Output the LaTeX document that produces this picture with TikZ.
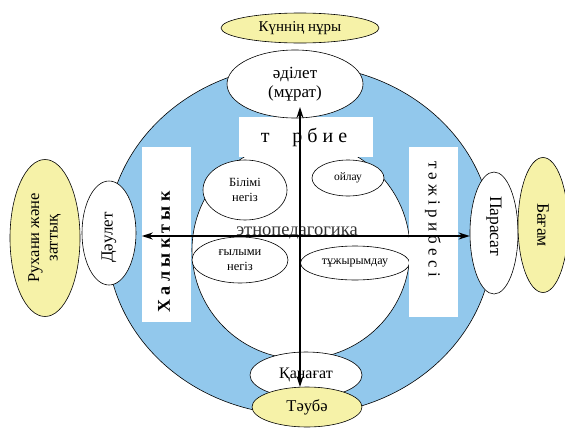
\documentclass[tikz,border=0pt]{standalone}
\usepackage{fontspec}
\setmainfont{Liberation Serif}
\usetikzlibrary{shapes.geometric,arrows.meta}
\definecolor{ringblue}{RGB}{146,200,236}
\definecolor{sunyellow}{RGB}{246,242,168}
\newcommand{\fs}[1]{\fontsize{#1}{#1}\selectfont}
\tikzset{
  oval/.style={ellipse, draw, line width=0.6pt, fill=white, inner sep=0pt, align=center},
  sunoval/.style={oval, fill=sunyellow},
  labelbox/.style={rectangle, fill=white, inner sep=0pt},
  axis/.style={line width=1.6pt, {Stealth[length=11pt,width=7pt]}-{Stealth[length=11pt,width=7pt]}}
}
\begin{document}
\begin{tikzpicture}[x=1pt,y=-1pt]
\useasboundingbox (0,0) rectangle (565,434);

% outer ring and inner circle
\node[ellipse, draw, line width=0.6pt, fill=ringblue, minimum width=386pt, minimum height=350pt] (ring) at (300,240) {};
\node[circle, draw, line width=0.6pt, fill=white, minimum size=218pt] (core) at (301,250) {};

% inner ovals
\node[oval, minimum width=84pt, minimum height=60pt, font=\fs{12.5}] (bilim) at (245,190) {Білімі\\[2pt]негіз};
\node[oval, minimum width=72pt, minimum height=36pt, font=\fs{11.5}] (oilau) at (348,178) {ойлау};
\node[oval, minimum width=96pt, minimum height=46pt, font=\fs{12.5}] (gylym) at (240,260) {ғылыми\\[2pt]негіз};
\node[oval, minimum width=109pt, minimum height=34pt, font=\fs{12}] (tuzhyr) at (355,263) {тұжырымдау};

\node[font=\fs{18.5}, text=black!80] (etno) at (297,233) {этнопедагогика};

% labelled white strips
\node[labelbox, minimum width=134pt, minimum height=40pt] (tbox) at (306,137) {};
\node[font=\fs{20}] (ttext) at (304,137) {т\hspace{1.15em}р б и е};
\node[labelbox, minimum width=49pt, minimum height=175pt] (hbox) at (166.5,234.5) {};
\node[font=\fs{18}\bfseries, rotate=90] (htext) at (164,252) {Х а л ы к т ы к};
\node[labelbox, minimum width=49pt, minimum height=170pt] (zbox) at (433.5,232) {};
\node[font=\fs{17}, rotate=-90] (ztext) at (433,219) {т ә ж і р и б е с і};

% outer ovals
\node[sunoval, minimum width=158pt, minimum height=30pt, font=\fs{15}] (sun) at (300,28) {Күннің нұры};
\node[oval, minimum width=136pt, minimum height=68pt, font=\fs{17}] (adilet) at (295,84) {әділет\\[2pt](мұрат)};
\node[oval, minimum width=54pt, minimum height=104pt] (dau) at (109,233) {\rotatebox{90}{\fs{17}Дәулет\hspace{9pt}}};
\node[sunoval, minimum width=70pt, minimum height=157pt] (rukh) at (45,238) {\rotatebox{90}{\fs{16.5}\begin{tabular}{@{}c@{}}Рухани және\\[2pt]заттық\end{tabular}}};
\node[oval, minimum width=48pt, minimum height=122pt] (paras) at (494,233) {\rotatebox{-90}{\fs{17.5}Парасат\hspace{14pt}}};
\node[sunoval, minimum width=50pt, minimum height=135pt] (bagam) at (543,225) {\rotatebox{-90}{\fs{17.5}Бағам}};
\node[oval, minimum width=112pt, minimum height=46pt, font=\fs{16}] (kanag) at (306,375) {Қанағат};
\node[sunoval, minimum width=110pt, minimum height=40pt, font=\fs{16.5}] (taub) at (307,407) {Тәубә};

% axes
\coordinate (vtop) at (300,107);
\coordinate (vbot) at (300,387);
\coordinate (hleft) at (hbox.west |- 0,236);
\coordinate (hright) at (paras.west |- 0,236);
\draw[axis] (vbot) -- (vtop);
\draw[axis] (hleft) -- (hright);
\end{tikzpicture}
\end{document}
